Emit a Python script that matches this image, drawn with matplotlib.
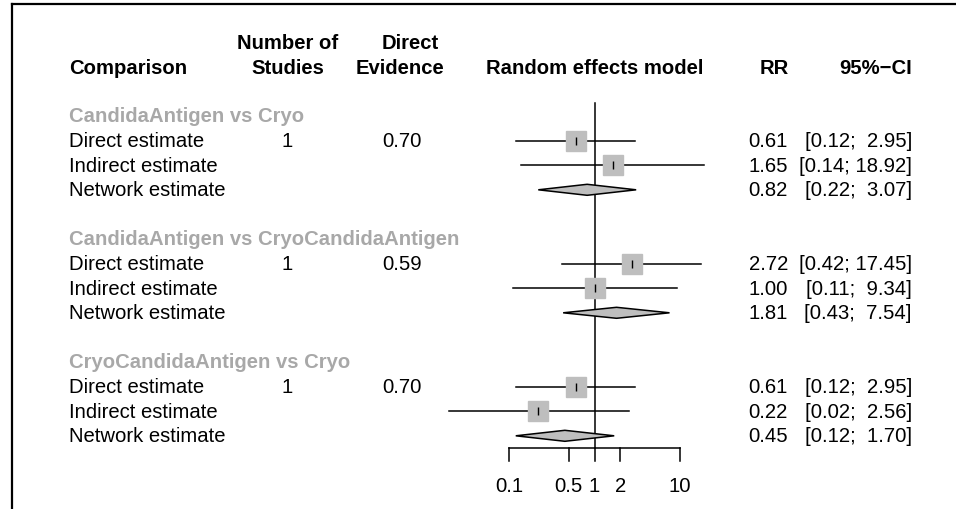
import matplotlib
matplotlib.use("Agg")
import matplotlib.pyplot as plt
import matplotlib.transforms as mtransforms
from matplotlib.lines import Line2D
from matplotlib.patches import Polygon

plt.rcParams['font.family'] = ['Liberation Sans', 'DejaVu Sans']

# data
groups = ["CandidaAntigen vs Cryo",
          "CandidaAntigen vs CryoCandidaAntigen",
          "CryoCandidaAntigen vs Cryo"]
row_labels = ["Direct estimate", "Indirect estimate", "Network estimate"]
n_studies = [1, 1, 1]
direct_evidence = [0.70, 0.59, 0.70]
rr = [[0.61, 1.65, 0.82],
      [2.72, 1.00, 1.81],
      [0.61, 0.22, 0.45]]
lower = [[0.12, 0.14, 0.22],
         [0.42, 0.11, 0.43],
         [0.12, 0.02, 0.12]]
upper = [[2.95, 18.92, 3.07],
         [17.45, 9.34, 7.54],
         [2.95, 2.56, 1.70]]
xticks = [0.1, 0.5, 1, 2, 10]
xtick_labels = ["0.1", "0.5", "1", "2", "10"]

W, H = 956, 510
fig = plt.figure(figsize=(W / 100, H / 100), dpi=100)

# forest axes: 1 at px 594.5, 85.5 px per decade, xlim 0.01..100
px_dec = 85.5
left_px = 594.5 - 2 * px_dec
ax = fig.add_axes([left_px / W, 0, 4 * px_dec / W, 1])
ax.set_xscale('log')
ax.set_xlim(0.01, 100)
y0_px, row_px = 117, 24.6
ax.set_ylim((H - y0_px) / row_px, -y0_px / row_px)
ax.axis('off')

tr = mtransforms.blended_transform_factory(fig.transFigure, ax.transData)
fs = 14.6
gray_sq = "#BEBEBE"
gray_txt = "#A8A8A8"

def fx(px):
    return px / W

def fy(px):
    return (px - y0_px) / row_px

# header
hdr = dict(fontsize=fs, fontweight='bold', transform=tr, va='center')
h1, h2 = fy(44), fy(69)
ax.text(fx(69), h2, "Comparison", ha='left', **hdr)
ax.text(fx(287.5), h1, "Number of", ha='center', **hdr)
ax.text(fx(287.5), h2, "Studies", ha='center', **hdr)
ax.text(fx(410), h1, "Direct", ha='center', **hdr)
ax.text(fx(400), h2, "Evidence", ha='center', **hdr)
ax.text(fx(595), h2, "Random effects model", ha='center', **hdr)
ax.text(fx(789), h2, "RR", ha='right', **hdr)
ax.text(fx(912), h2, "95%\u2212CI", ha='right', **hdr)

txt = dict(fontsize=fs, transform=tr, va='center')
dh = 5.5 / row_px
for g, name in enumerate(groups):
    r0 = g * 5
    ax.text(fx(69), r0, name, ha='left', color=gray_txt,
            fontweight='bold', **txt)
    for k, lab in enumerate(row_labels):
        r = r0 + 1 + k
        ax.text(fx(69), r, lab, ha='left', **txt)
        est, lo, hi = rr[g][k], lower[g][k], upper[g][k]
        ax.text(fx(788), r, f"{est:.2f}", ha='right', **txt)
        hi_s = f"{hi:.2f}"
        pad = "  " if len(hi_s) < 5 else " "
        ax.text(fx(912), r, f"[{lo:.2f};{pad}{hi_s}]", ha='right', **txt)
        if k < 2:
            ax.plot([lo, hi], [r, r], color='black', lw=1.1, zorder=2)
            ax.plot([est], [r], marker='s', ms=13.7, color=gray_sq,
                    mec=gray_sq, zorder=3, ls='none')
            ax.plot([est], [r], marker='|', ms=6, color='black',
                    mew=1, zorder=4, ls='none')
        else:
            ax.add_patch(Polygon([(lo, r), (est, r - dh), (hi, r), (est, r + dh)],
                                 closed=True, fc=gray_sq, ec='black',
                                 lw=1.1, zorder=3))
    ax.text(fx(287.5), r0 + 1, str(n_studies[g]), ha='center', **txt)
    ax.text(fx(402), r0 + 1, f"{direct_evidence[g]:.2f}", ha='center', **txt)

# reference line and x axis
axis_row = fy(449)
tick_end = fy(462)
ax.plot([1, 1], [fy(104), axis_row], color='black', lw=1.1, zorder=1)
ax.plot([xticks[0], xticks[-1]], [axis_row, axis_row], color='black', lw=1.1)
for t, lab in zip(xticks, xtick_labels):
    ax.plot([t, t], [axis_row, tick_end], color='black', lw=1.1)
    ax.text(t, fy(487), lab, ha='center', va='center', fontsize=fs)

# frame pieces
fig.add_artist(Line2D([fx(12), fx(12)], [0, 1 - 5 / H], color='black',
                      lw=1.6, transform=fig.transFigure))
fig.add_artist(Line2D([fx(12), 1], [1 - 5 / H, 1 - 5 / H], color='black',
                      lw=1.6, transform=fig.transFigure))

fig.savefig("out.png", dpi=100)
